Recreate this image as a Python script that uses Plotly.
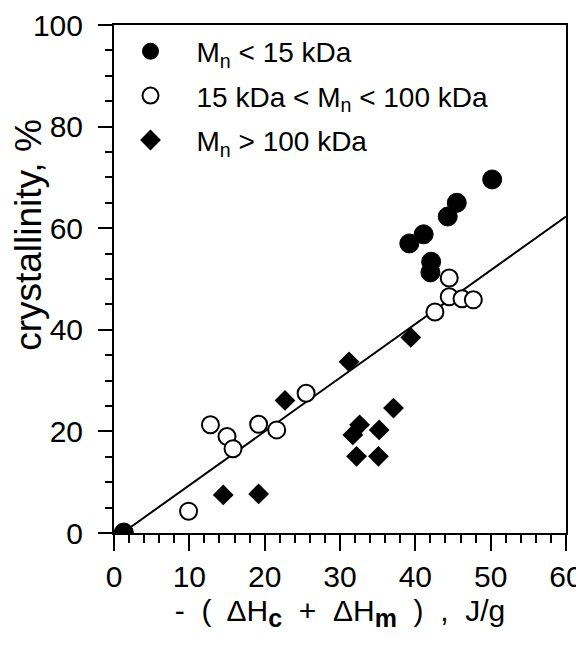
import plotly.graph_objects as go

# ---- data ----
low_x = [1.3, 39.2, 41.1, 42.0, 42.1, 44.3, 45.5, 50.2]
low_y = [0.1, 57.0, 58.8, 51.3, 53.4, 62.3, 65.0, 69.6]

mid_x = [9.9, 12.8, 15.0, 15.8, 19.2, 21.6, 25.5, 42.6, 44.5, 44.5, 46.2, 47.7]
mid_y = [4.3, 21.3, 19.0, 16.6, 21.4, 20.3, 27.5, 43.5, 50.2, 46.5, 46.1, 45.9]

high_x = [14.5, 19.2, 22.7, 31.2, 39.4, 37.1, 32.6, 31.7, 35.2, 32.2, 35.1]
high_y = [7.5, 7.7, 26.1, 33.7, 38.5, 24.6, 21.3, 19.3, 20.3, 15.1, 15.1]

fit_x = [1.4, 60]
fit_y = [0.3, 62.3]

names = ["M<sub>n</sub> < 15 kDa",
         "15 kDa < M<sub>n</sub> < 100 kDa",
         "M<sub>n</sub> > 100 kDa"]

NB = "\u00a0"
SUB = '<sub><b><span style="font-size:25px">{}</span></b></sub>'
x_title = ("-" + NB + " (" + NB + " ΔH" + SUB.format("c") + NB + " +" + NB +
           " ΔH" + SUB.format("m") + NB + " )" + NB + " ," + NB + " J/g")
y_title = "crystallinity, %"

FONT = "Liberation Sans, Arial, Helvetica, sans-serif"

fig = go.Figure()
fig.add_trace(go.Scatter(x=fit_x, y=fit_y, mode="lines",
                         line=dict(color="black", width=2),
                         showlegend=False, hoverinfo="skip"))
fig.add_trace(go.Scatter(x=low_x, y=low_y, mode="markers", name=names[0],
                         legendgroup="a",
                         marker=dict(symbol="circle", size=19, color="black",
                                     line=dict(color="black", width=1))))
fig.add_trace(go.Scatter(x=mid_x, y=mid_y, mode="markers", name=names[1],
                         legendgroup="b",
                         marker=dict(symbol="circle", size=17, color="white",
                                     line=dict(color="black", width=2))))
fig.add_trace(go.Scatter(x=high_x, y=high_y, mode="markers", name=names[2],
                         legendgroup="c",
                         marker=dict(symbol="diamond", size=16, color="black",
                                     line=dict(color="black", width=0))))

fig.update_layout(
    template="none",
    width=584, height=645,
    margin=dict(l=106, r=26, t=17, b=120, autoexpand=False),
    paper_bgcolor="white", plot_bgcolor="white",
    font=dict(family=FONT, size=30, color="black"),
    showlegend=True,
    legend=dict(x=-0.021, y=0.997, xanchor="left", yanchor="top",
                bgcolor="rgba(0,0,0,0)", borderwidth=0, font=dict(size=28),
                tracegroupgap=5, itemwidth=82),
    xaxis=dict(range=[0, 60], tick0=0, dtick=10, automargin=False,
               showgrid=False, zeroline=False,
               showline=True, linecolor="black", linewidth=2, mirror=True,
               ticks="outside", ticklen=16, tickwidth=2, tickcolor="black",
               minor=dict(dtick=2, ticks="outside", ticklen=8, tickwidth=2,
                          tickcolor="black", showgrid=False),
               tickfont=dict(size=30),
               title=dict(text=x_title, font=dict(size=30), standoff=8)),
    yaxis=dict(range=[0, 100], tick0=0, dtick=20, automargin=False,
               showgrid=False, zeroline=False,
               showline=True, linecolor="black", linewidth=2, mirror=True,
               ticks="outside", ticklen=14, tickwidth=2, tickcolor="black",
               ticklabelstandoff=9,
               minor=dict(dtick=5, ticks="outside", ticklen=7, tickwidth=2,
                          tickcolor="black", showgrid=False),
               tickfont=dict(size=30)),
    annotations=[dict(text=y_title, textangle=-90, showarrow=False,
                      xref="paper", yref="paper", x=-0.188, y=0.587,
                      xanchor="center", yanchor="middle",
                      font=dict(size=37))],
)

fig.write_html("out.html")
